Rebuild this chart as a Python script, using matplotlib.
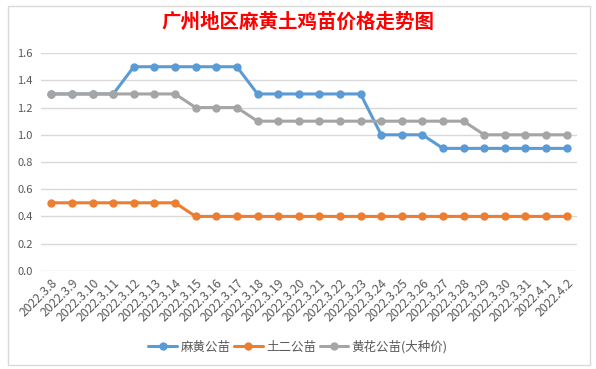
import matplotlib
matplotlib.use('Agg')

import matplotlib.pyplot as plt
import numpy as np
from matplotlib.patches import Rectangle

plt.rcParams['font.family'] = ['Noto Sans CJK SC', 'DejaVu Sans']

dates = ['2022.3.8', '2022.3.9', '2022.3.10', '2022.3.11', '2022.3.12', '2022.3.13',
         '2022.3.14', '2022.3.15', '2022.3.16', '2022.3.17', '2022.3.18', '2022.3.19',
         '2022.3.20', '2022.3.21', '2022.3.22', '2022.3.23', '2022.3.24', '2022.3.25',
         '2022.3.26', '2022.3.27', '2022.3.28', '2022.3.29', '2022.3.30', '2022.3.31',
         '2022.4.1', '2022.4.2']

mahuang = [1.3, 1.3, 1.3, 1.3, 1.5, 1.5, 1.5, 1.5, 1.5, 1.5, 1.3, 1.3, 1.3,
           1.3, 1.3, 1.3, 1.0, 1.0, 1.0, 0.9, 0.9, 0.9, 0.9, 0.9, 0.9, 0.9]
tuer = [0.5, 0.5, 0.5, 0.5, 0.5, 0.5, 0.5, 0.4, 0.4, 0.4, 0.4, 0.4, 0.4,
        0.4, 0.4, 0.4, 0.4, 0.4, 0.4, 0.4, 0.4, 0.4, 0.4, 0.4, 0.4, 0.4]
huanghua = [1.3, 1.3, 1.3, 1.3, 1.3, 1.3, 1.3, 1.2, 1.2, 1.2, 1.1, 1.1, 1.1,
            1.1, 1.1, 1.1, 1.1, 1.1, 1.1, 1.1, 1.1, 1.0, 1.0, 1.0, 1.0, 1.0]

series = [
    ('麻黄公苗', mahuang, '#5b9bd5'),
    ('土二公苗', tuer, '#ed7d31'),
    ('黄花公苗(大种价)', huanghua, '#a5a5a5'),
]

fig = plt.figure(figsize=(5.96, 3.69), dpi=100)
ax = fig.add_axes([0.069, 0.266, 0.899, 0.59])

x = np.arange(len(dates))
for name, vals, color in series:
    ax.plot(x, vals, color=color, linewidth=2.2, marker='o', markersize=5,
            label=name, solid_capstyle='round')

ax.set_xlim(-0.5, len(dates) - 0.5)
ax.set_ylim(0, 1.6)
ax.set_yticks(np.arange(0, 1.61, 0.2))
ax.set_yticklabels([f'{v:.1f}' for v in np.arange(0, 1.61, 0.2)])
ax.set_xticks(x)
ax.set_xticklabels(dates, rotation=45, ha='right', rotation_mode='anchor')
ax.tick_params(axis='y', length=0, labelsize=8, colors='#595959', pad=6)
ax.tick_params(axis='x', length=0, labelsize=8.8, colors='#595959', pad=4)
ax.grid(axis='y', color='#d9d9d9', linewidth=1)
ax.set_axisbelow(True)
for s in ax.spines.values():
    s.set_visible(False)

fig.suptitle('广州地区麻黄土鸡苗价格走势图', color='red', fontsize=14,
             fontweight='bold', y=0.965)

fig.legend(loc='center', bbox_to_anchor=(0.5, 0.06), ncol=3, frameon=False,
           fontsize=9, handlelength=2.3, columnspacing=0.3, handletextpad=0.25,
           labelcolor='#595959')

# chart border
fig.patches.append(Rectangle((0.013, 0.01), 0.977, 0.975, transform=fig.transFigure,
                             fill=False, edgecolor='#d9d9d9', linewidth=1))

fig.savefig('out.png', dpi=100)
